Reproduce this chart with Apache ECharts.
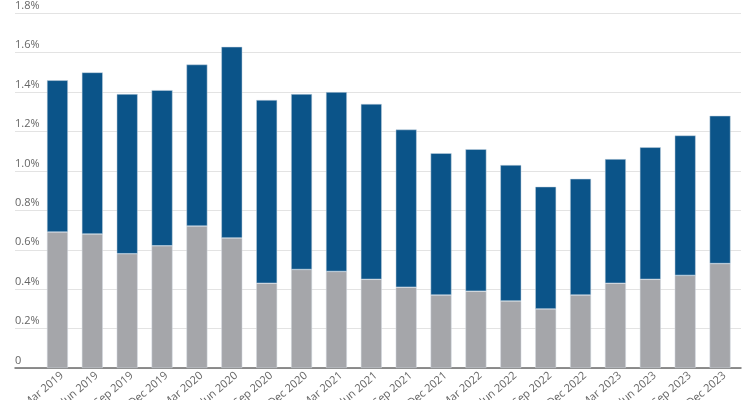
<!DOCTYPE html>
<html>
<head>
<meta charset="utf-8">
<script src="https://cdn.jsdelivr.net/npm/echarts@6/dist/echarts.min.js"></script>
<style>html,body{margin:0;padding:0;background:#fff}#c{width:750px;height:400px}</style>
</head>
<body>
<div id="c"></div>
<script>
const categories = ['Mar 2019','Jun 2019','Sep 2019','Dec 2019','Mar 2020','Jun 2020','Sep 2020','Dec 2020','Mar 2021','Jun 2021','Sep 2021','Dec 2021','Mar 2022','Jun 2022','Sep 2022','Dec 2022','Mar 2023','Jun 2023','Sep 2023','Dec 2023'];
const greyValues = [0.69,0.68,0.58,0.62,0.72,0.66,0.43,0.50,0.49,0.45,0.41,0.37,0.39,0.34,0.30,0.37,0.43,0.45,0.47,0.53];
const blueValues = [0.77,0.82,0.81,0.79,0.82,0.97,0.93,0.89,0.91,0.89,0.80,0.72,0.72,0.69,0.62,0.59,0.63,0.67,0.71,0.75];
const yTicks = [0,0.2,0.4,0.6,0.8,1.0,1.2,1.4,1.6,1.8];

const font = '"Open Sans", "Noto Sans", sans-serif';
const chart = echarts.init(document.getElementById('c'));
chart.setOption({
  animation: false,
  backgroundColor: '#fff',
  grid: [
    {left: 15, right: 9, top: 13.3, bottom: 32, containLabel: false, outerBoundsMode: 'none'},
    {left: 40, right: 12.5, top: 13.3, bottom: 32, containLabel: false, outerBoundsMode: 'none'}
  ],
  xAxis: [
    {gridIndex: 0, type: 'value', min: 0, max: 1, show: true,
     axisLine: {show: true, onZero: false, lineStyle: {color: '#6b6b6b', width: 1.5}},
     axisTick: {show: false}, axisLabel: {show: false}, splitLine: {show: false}},
    {gridIndex: 1, type: 'category', data: categories,
     axisLine: {show: false}, axisTick: {show: false},
     axisLabel: {rotate: 40, margin: 10, padding: [0, -6, 0, 0], color: '#666', fontSize: 11, fontFamily: font, interval: 0}}
  ],
  yAxis: [
    {gridIndex: 0, type: 'value', min: yTicks[0], max: yTicks[yTicks.length-1], interval: 0.2,
     axisLine: {show: false}, axisTick: {show: false},
     splitLine: {show: true, lineStyle: {color: '#e3e3e3', width: 1}},
     axisLabel: {inside: true, margin: 0, verticalAlign: 'bottom', align: 'left', padding: [0,0,2,0],
       color: '#666', fontSize: 11, fontFamily: font,
       formatter: v => v === 0 ? '0' : v.toFixed(1) + '%'}},
    {gridIndex: 1, type: 'value', min: yTicks[0], max: yTicks[yTicks.length-1], interval: 0.2, show: false,
     splitLine: {show: false}}
  ],
  series: [
    {type: 'bar', xAxisIndex: 1, yAxisIndex: 1, stack: 's', data: greyValues, barCategoryGap: '40%',
     itemStyle: {color: '#a5a6aa', borderColor: '#d4dbe2', borderWidth: 0.5}},
    {type: 'bar', xAxisIndex: 1, yAxisIndex: 1, stack: 's', data: blueValues, barCategoryGap: '40%',
     itemStyle: {color: '#0b5489', borderColor: '#c9d7e3', borderWidth: 0.5}}
  ]
});
</script>
</body>
</html>
